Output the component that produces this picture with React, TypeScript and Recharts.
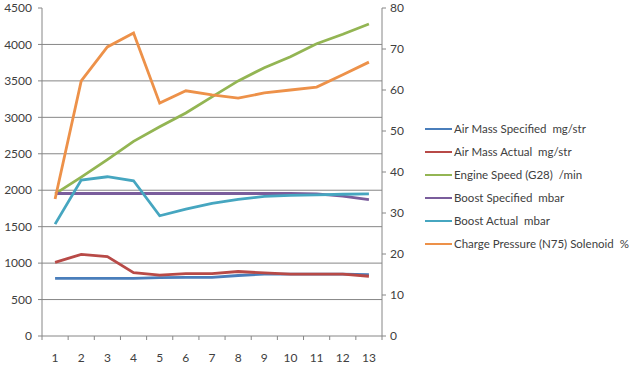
import { CartesianGrid, Legend, Line, LineChart, XAxis, YAxis } from 'recharts';

const SAMPLES = [1, 2, 3, 4, 5, 6, 7, 8, 9, 10, 11, 12, 13];
const AIR_MASS_SPECIFIED = [790, 790, 790, 790, 800, 805, 805, 830, 848, 850, 850, 850, 842];
const AIR_MASS_ACTUAL = [1010, 1120, 1090, 870, 835, 855, 855, 885, 865, 850, 850, 850, 820];
const ENGINE_SPEED = [1950, 2180, 2420, 2670, 2870, 3060, 3280, 3500, 3680, 3830, 4010, 4140, 4280];
const BOOST_SPECIFIED = [1955, 1955, 1955, 1955, 1955, 1955, 1955, 1955, 1955, 1955, 1950, 1920, 1870];
const BOOST_ACTUAL = [1535, 2140, 2185, 2130, 1650, 1740, 1820, 1875, 1915, 1930, 1935, 1945, 1950];
const CHARGE_PRESSURE = [33.4, 62.2, 70.5, 73.9, 56.8, 59.8, 58.8, 58.0, 59.3, 60.0, 60.7, 63.7, 66.8];

const LEFT_TICKS = [0, 500, 1000, 1500, 2000, 2500, 3000, 3500, 4000, 4500];
const GRID_VALUES = [500, 1000, 1500, 2000, 2500, 3000, 3500, 4000];
const RIGHT_TICKS = [0, 10, 20, 30, 40, 50, 60, 70, 80];
const BOUNDARY_TICKS = [0.5, 1.5, 2.5, 3.5, 4.5, 5.5, 6.5, 7.5, 8.5, 9.5, 10.5, 11.5, 12.5, 13.5];

const SERIES = [
  { key: 'airSpec', name: 'Air Mass Specified  mg/str', values: AIR_MASS_SPECIFIED, color: '#4a7ebb', axis: 'left' },
  { key: 'airAct', name: 'Air Mass Actual  mg/str', values: AIR_MASS_ACTUAL, color: '#b84a47', axis: 'left' },
  { key: 'rpm', name: 'Engine Speed (G28)  /min', values: ENGINE_SPEED, color: '#93b553', axis: 'left' },
  { key: 'boostSpec', name: 'Boost Specified  mbar', values: BOOST_SPECIFIED, color: '#7a5d9c', axis: 'left' },
  { key: 'boostAct', name: 'Boost Actual  mbar', values: BOOST_ACTUAL, color: '#46a6c0', axis: 'left' },
  { key: 'n75', name: 'Charge Pressure (N75) Solenoid  %', values: CHARGE_PRESSURE, color: '#ed9149', axis: 'right' },
];

const data = SAMPLES.map((x, i) => {
  const row: Record<string, number> = { x };
  SERIES.forEach((s) => {
    row[s.key] = s.values[i];
  });
  return row;
});

const FONT = 'Lato, "Open Sans", sans-serif';
const AXIS = '#868686';
const TEXT = '#404040';

function LegendBox() {
  return (
    <div style={{ fontFamily: FONT, fontSize: 11.5, color: TEXT }}>
      {SERIES.map((s) => (
        <div key={s.key} style={{ display: 'flex', alignItems: 'center', height: 23, whiteSpace: 'pre' }}>
          <span style={{ width: 27, height: 2, backgroundColor: s.color, marginRight: 2 }} />
          <span>{s.name}</span>
        </div>
      ))}
    </div>
  );
}

export default function App() {
  return (
    <div style={{ position: 'absolute', left: 0, top: 0, background: '#fff' }}>
      <LineChart width={640} height={368} data={data} margin={{ top: 8, right: 218, bottom: 0, left: 0 }}>
        <CartesianGrid horizontal vertical={false} stroke={AXIS} yAxisId="left" horizontalValues={GRID_VALUES} />
        <XAxis
          xAxisId="bounds"
          dataKey="x"
          type="number"
          domain={[0.5, 13.5]}
          ticks={BOUNDARY_TICKS}
          tickFormatter={() => ''}
          stroke={AXIS}
          tickSize={4}
          height={1}
        />
        <XAxis
          xAxisId="main"
          dataKey="x"
          type="number"
          domain={[0.5, 13.5]}
          ticks={SAMPLES}
          axisLine={false}
          tickLine={false}
          tickSize={4}
          tickMargin={12}
          tick={{ fill: TEXT, fontSize: 12, fontFamily: FONT }}
          height={31}
          interval={0}
        />
        <YAxis
          yAxisId="left"
          domain={[0, 4500]}
          ticks={LEFT_TICKS}
          width={42}
          stroke={AXIS}
          tickSize={4}
          tickMargin={6}
          tick={{ fill: TEXT, fontSize: 12, fontFamily: FONT }}
          interval={0}
        />
        <YAxis
          yAxisId="right"
          orientation="right"
          domain={[0, 80]}
          ticks={RIGHT_TICKS}
          width={40}
          stroke={AXIS}
          tickSize={4}
          tickMargin={4}
          tick={{ fill: TEXT, fontSize: 12, fontFamily: FONT, textAnchor: 'start' }}
          interval={0}
        />
        <Legend
          layout="horizontal"
          verticalAlign="middle"
          align="center"
          wrapperStyle={{ position: 'absolute', left: 425, top: 117, width: 215 }}
          content={() => <LegendBox />}
        />
        {SERIES.map((s) => (
          <Line
            key={s.key}
            xAxisId="main"
            yAxisId={s.axis}
            dataKey={s.key}
            name={s.name}
            type="linear"
            stroke={s.color}
            strokeWidth={2.8}
            dot={false}
            activeDot={false}
            isAnimationActive={false}
          />
        ))}
      </LineChart>
    </div>
  );
}
